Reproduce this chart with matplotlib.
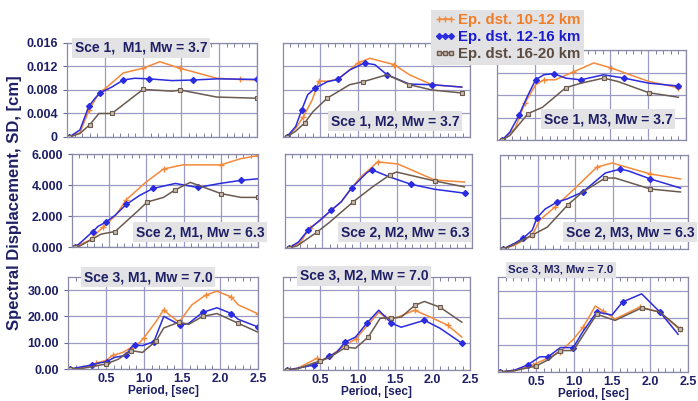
import matplotlib
matplotlib.use("Agg")
import matplotlib.pyplot as plt
from matplotlib.lines import Line2D

plt.rcParams['font.family'] = ['Liberation Sans', 'DejaVu Sans']
plt.rcParams['font.weight'] = 'bold'

W, H = 698, 401
navy = '#1f1f66'
c_a = '#f5893a'   # 10-12 km
c_b = '#2b2be0'   # 12-16 km
c_c = '#6b5a4e'   # 16-20 km

labels = ['Ep. dst. 10-12 km', 'Ep. dst. 12-16 km', 'Ep. dst. 16-20 km']
titles = [['Sce 1,  M1, Mw = 3.7', 'Sce 1, M2, Mw = 3.7', 'Sce 1, M3, Mw = 3.7'],
          ['Sce 2, M1, Mw = 6.3', 'Sce 2, M2, Mw = 6.3', 'Sce 2, M3, Mw = 6.3'],
          ['Sce 3, M1, Mw = 7.0', 'Sce 3, M2, Mw = 7.0', 'Sce 3, M3, Mw = 7.0']]

# ---- data: period [s] and SD [cm]
# a = 10-12 km, b = 12-16 km, c = 16-20 km
# Sce 1, M1
T11a = [0.03, 0.17, 0.29, 0.39, 0.5, 0.74, 1.0, 1.22, 1.49, 1.97, 2.28, 2.5]
SD11a = [0, 0.0007, 0.0046, 0.0068, 0.0082, 0.0109, 0.0117, 0.0128, 0.0117, 0.0100, 0.0098, 0.0097]
T11b = [0.03, 0.17, 0.29, 0.37, 0.43, 0.59, 0.74, 0.89, 1.08, 1.38, 1.66, 1.97, 2.5]
SD11b = [0, 0.0012, 0.0053, 0.0066, 0.0075, 0.0085, 0.0097, 0.0100, 0.0099, 0.0096, 0.0097, 0.0099, 0.0098]
T11c = [0.03, 0.17, 0.3, 0.42, 0.59, 0.89, 1.0, 1.39, 1.49, 1.97, 2.5]
SD11c = [0, 0.0006, 0.0021, 0.0040, 0.0040, 0.0070, 0.0081, 0.0078, 0.0080, 0.0068, 0.0066]
# Sce 1, M2
T12a = [0.05, 0.17, 0.27, 0.39, 0.48, 0.59, 0.73, 0.89, 1.0, 1.16, 1.49, 1.69, 1.99, 2.39]
SD12a = [0, 0.0015, 0.0034, 0.0063, 0.0095, 0.0095, 0.0098, 0.0114, 0.0126, 0.0134, 0.0123, 0.0106, 0.0089, 0.0085]
T12b = [0.05, 0.17, 0.25, 0.33, 0.43, 0.59, 0.73, 0.89, 1.09, 1.23, 1.39, 1.69, 1.99, 2.39]
SD12b = [0, 0.0018, 0.0046, 0.0072, 0.0083, 0.0094, 0.0098, 0.0114, 0.0126, 0.0123, 0.0106, 0.0090, 0.0089, 0.0085]
T12c = [0.05, 0.17, 0.29, 0.4, 0.59, 0.89, 1.07, 1.39, 1.69, 1.99, 2.39]
SD12c = [0, 0.0010, 0.0024, 0.0043, 0.0066, 0.0089, 0.0094, 0.0106, 0.0089, 0.0080, 0.0075]
# Sce 1, M3
T13a = [0.07, 0.24, 0.37, 0.51, 0.62, 0.77, 1.01, 1.28, 1.51, 2.01, 2.4]
SD13a = [0, 0.0021, 0.0066, 0.0098, 0.0107, 0.0107, 0.0121, 0.0137, 0.0128, 0.0104, 0.0093]
T13b = [0.07, 0.17, 0.29, 0.4, 0.51, 0.62, 0.75, 0.91, 1.11, 1.41, 1.68, 2.01, 2.4]
SD13b = [0, 0.0014, 0.0044, 0.0077, 0.0107, 0.0116, 0.0118, 0.0110, 0.0107, 0.0116, 0.0110, 0.0101, 0.0096]
T13c = [0.07, 0.17, 0.41, 0.6, 0.91, 1.11, 1.41, 1.6, 2.01, 2.4]
SD13c = [0, 0.0008, 0.0047, 0.0058, 0.0093, 0.0101, 0.0110, 0.0104, 0.0084, 0.0076]
# Sce 2, M1
T21a = [0.04, 0.24, 0.42, 0.58, 0.73, 0.99, 1.23, 1.49, 2.0, 2.27, 2.5]
SD21a = [0, 0.45, 1.3, 2.0, 3.05, 4.17, 5.03, 5.3, 5.3, 5.7, 5.9]
T21b = [0.04, 0.11, 0.28, 0.35, 0.46, 0.58, 0.73, 0.91, 1.09, 1.39, 1.69, 1.99, 2.27, 2.5]
SD21b = [0, 0.26, 1.0, 1.33, 1.62, 2.05, 2.75, 3.33, 3.78, 4.1, 3.84, 4.1, 4.3, 4.4]
T21c = [0.04, 0.1, 0.27, 0.39, 0.58, 0.89, 1.01, 1.23, 1.39, 1.59, 2.0, 2.27, 2.5]
SD21c = [0, 0.05, 0.5, 0.83, 1.0, 2.35, 2.9, 3.2, 3.7, 4.17, 3.45, 3.2, 3.2]
# Sce 2, M2
T22a = [0.05, 0.2, 0.33, 0.46, 0.62, 0.75, 0.89, 1.0, 1.24, 1.51, 2.0, 2.4]
SD22a = [0, 0.32, 1.28, 1.7, 2.42, 2.94, 3.83, 4.47, 5.5, 5.36, 4.34, 4.21]
T22b = [0.05, 0.18, 0.31, 0.47, 0.62, 0.75, 0.89, 1.09, 1.16, 1.4, 1.69, 2.0, 2.4]
SD22b = [0, 0.38, 1.15, 1.79, 2.42, 2.94, 3.83, 4.79, 5.0, 4.53, 4.06, 3.75, 3.5]
T22c = [0.05, 0.16, 0.43, 0.6, 0.91, 1.17, 1.4, 1.49, 2.0, 2.4]
SD22c = [0, 0.13, 1.02, 1.66, 2.94, 3.9, 4.66, 4.85, 4.28, 3.9]
# Sce 2, M3
T23a = [0.04, 0.2, 0.43, 0.53, 0.73, 1.0, 1.29, 1.49, 2.0, 2.4]
SD23a = [0, 0.25, 0.89, 1.85, 2.68, 3.89, 5.23, 5.49, 4.79, 4.47]
T23b = [0.04, 0.2, 0.31, 0.43, 0.49, 0.6, 0.76, 0.89, 1.1, 1.4, 1.6, 1.71, 2.0, 2.4]
SD23b = [0, 0.38, 0.7, 1.21, 1.98, 2.55, 3.0, 3.19, 3.64, 4.85, 5.1, 4.98, 4.47, 3.89]
T23c = [0.04, 0.15, 0.43, 0.63, 0.9, 1.1, 1.4, 1.53, 2.0, 2.4]
SD23c = [0, 0.2, 0.89, 1.4, 2.81, 3.64, 4.53, 4.53, 3.83, 3.64]
# Sce 3, M1
T31a = [0.03, 0.24, 0.37, 0.5, 0.59, 0.72, 0.83, 0.94, 1.0, 1.16, 1.26, 1.33, 1.46, 1.63, 1.81, 1.96, 2.15, 2.24, 2.5]
SD31a = [0, 0.9, 2.2, 3.3, 5.2, 6.3, 8.1, 10, 11.9, 18.1, 22.6, 20.7, 17.8, 24.4, 28.1, 29.6, 27.4, 24.4, 21.0]
T31b = [0.03, 0.1, 0.31, 0.39, 0.51, 0.61, 0.76, 0.83, 0.88, 0.98, 1.13, 1.26, 1.48, 1.59, 1.77, 1.96, 2.15, 2.24, 2.5]
SD31b = [0, 0.4, 1.5, 2.2, 2.8, 4.4, 5.2, 8.1, 9.2, 8.9, 10.4, 20.0, 16.7, 17.4, 21.5, 23.3, 21.1, 18.9, 16.0]
T31c = [0.03, 0.2, 0.5, 0.66, 0.83, 0.98, 1.16, 1.26, 1.46, 1.59, 1.77, 1.96, 2.24, 2.5]
SD31c = [0, 0.3, 1.9, 3.7, 7.0, 6.3, 10.7, 15.6, 17.8, 17.0, 20.0, 21.1, 17.4, 14.0]
# Sce 3, M2
T32a = [0.05, 0.2, 0.46, 0.5, 0.63, 0.83, 0.97, 1.28, 1.37, 1.5, 1.76, 1.97, 2.2, 2.39]
SD32a = [0, 0.7, 4.5, 3.5, 5.2, 9.4, 11.6, 21.7, 19.9, 19.5, 22.5, 19.9, 16.9, 12.4]
T32b = [0.05, 0.2, 0.42, 0.49, 0.62, 0.72, 0.83, 0.97, 1.12, 1.28, 1.45, 1.58, 1.89, 2.1, 2.39]
SD32b = [0, 0.7, 1.9, 3.0, 5.2, 6.7, 10.5, 12.4, 17.6, 22.5, 17.6, 16.1, 18.7, 15.7, 10.1]
T32c = [0.05, 0.2, 0.5, 0.61, 0.84, 0.97, 1.14, 1.3, 1.45, 1.58, 1.76, 1.89, 2.1, 2.39]
SD32c = [0, 0.5, 3.5, 4.5, 8.6, 8.2, 12.4, 19.5, 19.5, 19.9, 24.3, 25.8, 23.6, 18.0]
# Sce 3, M3
T33a = [0.03, 0.22, 0.46, 0.66, 0.82, 0.99, 1.12, 1.28, 1.38, 1.54, 1.87, 2.13, 2.39]
SD33a = [0, 0.5, 2.6, 5.2, 7.5, 12.0, 16.5, 24.3, 22.5, 19.5, 24.0, 22.0, 15.7]
T33b = [0.03, 0.22, 0.39, 0.55, 0.66, 0.82, 0.99, 1.12, 1.3, 1.5, 1.64, 1.89, 2.13, 2.37]
SD33b = [0, 0.7, 2.6, 5.6, 5.6, 9.0, 9.0, 15.0, 22.1, 21.0, 25.8, 28.8, 22.1, 13.9]
T33c = [0.03, 0.22, 0.5, 0.66, 0.82, 0.99, 1.3, 1.54, 1.89, 2.13, 2.39]
SD33c = [0, 0.5, 2.2, 4.5, 7.9, 7.9, 21.3, 19.0, 23.6, 22.1, 16.0]

data = [[(T11a, SD11a, T11b, SD11b, T11c, SD11c),
         (T12a, SD12a, T12b, SD12b, T12c, SD12c),
         (T13a, SD13a, T13b, SD13b, T13c, SD13c)],
        [(T21a, SD21a, T21b, SD21b, T21c, SD21c),
         (T22a, SD22a, T22b, SD22b, T22c, SD22c),
         (T23a, SD23a, T23b, SD23b, T23c, SD23c)],
        [(T31a, SD31a, T31b, SD31b, T31c, SD31c),
         (T32a, SD32a, T32b, SD32b, T32c, SD32c),
         (T33a, SD33a, T33b, SD33b, T33c, SD33c)]]

yticks = [[0, 0.004, 0.008, 0.012, 0.016], [0, 2, 4, 6], [0, 10, 20, 30]]
ytlabels = [['0', '0.004', '0.008', '0.012', '0.016'],
            ['0.000', '2.000', '4.000', '6.000'],
            ['0.00', '10.00', '20.00', '30.00']]
ylims = [(0, 0.016), (0, 6), (0, 35)]
xticks = [0.5, 1.0, 1.5, 2.0, 2.5]

# axes boxes in pixels: left, top, right, bottom
boxes = [[(67, 43, 257, 137), (283, 43, 470, 137), (497, 50, 686, 140)],
         [(72, 154, 258, 247), (285, 154, 472, 248), (500, 155, 688, 249)],
         [(68, 277, 258, 369), (283, 277, 470, 370), (498, 277, 688, 372)]]
# title box centres in pixels, font size
tpos = [[(141, 48, 10), (395, 121, 10), (608, 119, 10)],
        [(200, 232, 10), (405, 232, 10), (630, 232, 10)],
        [(148, 277, 10), (364, 276, 10), (561, 270, 8.2)]]

fig = plt.figure(figsize=(W / 100, H / 100), dpi=100)

for r in range(3):
    for c in range(3):
        l, t, rr, b = boxes[r][c]
        ax = fig.add_axes([l / W, 1 - b / H, (rr - l) / W, (b - t) / H])
        ta, sa, tb, sb, tc, sc = data[r][c]
        ax.plot(ta, sa, color=c_a, lw=1.1, marker='+', ms=5, mew=1.0, markevery=2)
        ax.plot(tb, sb, color=c_b, lw=1.1, marker='D', ms=3, markevery=2)
        ax.plot(tc, sc, color=c_c, lw=1.1, marker='s', ms=3, mfc='#c9b9a9', mec=c_c,
                mew=0.8, markevery=2)
        ax.set_xlim(0, 2.5)
        ax.set_ylim(*ylims[r])
        ax.set_xticks(xticks)
        ax.set_xticks([i / 10 for i in range(1, 25)], minor=True)
        ax.set_yticks(yticks[r])
        ax.grid(True, which='major', color='#9a9ac4', lw=0.9)
        ax.set_axisbelow(True)
        for s in ax.spines.values():
            s.set_color('#8a8aa8')
            s.set_linewidth(0.9)
        ax.tick_params(which='minor', direction='in', length=3, color='#6a6a90',
                       top=True, left=False)
        ax.tick_params(which='major', length=3, color='#6a6a90', labelsize=9,
                       labelcolor=navy)
        if c == 0:
            ax.set_yticklabels(ytlabels[r])
        else:
            ax.tick_params(labelleft=False, left=False)
        if r == 2:
            ax.set_xticklabels(['0.5', '1.0', '1.5', '2.0', '2.5'], fontsize=9)
            ax.tick_params(axis='x', which='major', length=0, pad=3)
            ax.set_xlabel('Period, [sec]', fontsize=8.5, color=navy, fontweight='bold',
                          labelpad=0)
        else:
            ax.tick_params(labelbottom=False, bottom=False, axis='x', which='major')
        x0, y0, fs = tpos[r][c]
        fig.text(x0 / W, 1 - y0 / H, titles[r][c], ha='center', va='center',
                 fontsize=fs, color=navy, fontweight='bold', zorder=10,
                 bbox=dict(boxstyle='square,pad=0.22', fc='#e3e3e6', ec='none'))

fig.text(15 / W, 1 - 203 / H, 'Spectral Displacement, SD, [cm]', rotation=90,
         ha='center', va='center', fontsize=12, color=navy, fontweight='bold')

handles = [Line2D([], [], color=c_a, lw=1.1, marker='+', ms=5, mew=1.0),
           Line2D([], [], color=c_b, lw=1.1, marker='D', ms=3),
           Line2D([], [], color=c_c, lw=1.1, marker='s', ms=3, mfc='#c9b9a9', mec=c_c)]
leg = fig.legend(handles, labels, loc='upper left', bbox_to_anchor=(423 / W, 1 - 2 / H),
                 numpoints=3, handlelength=1.4, handletextpad=0.2, labelspacing=0.2,
                 borderpad=0.25, frameon=True, fancybox=False,
                 facecolor='#e2e2e4', edgecolor='none', framealpha=1,
                 prop={'weight': 'bold', 'size': 10.8})
for txt, col in zip(leg.get_texts(), ['#f07d28', '#1c1ccf', '#5a4a40']):
    txt.set_color(col)
leg.set_zorder(20)

fig.savefig('out.png', dpi=100)
